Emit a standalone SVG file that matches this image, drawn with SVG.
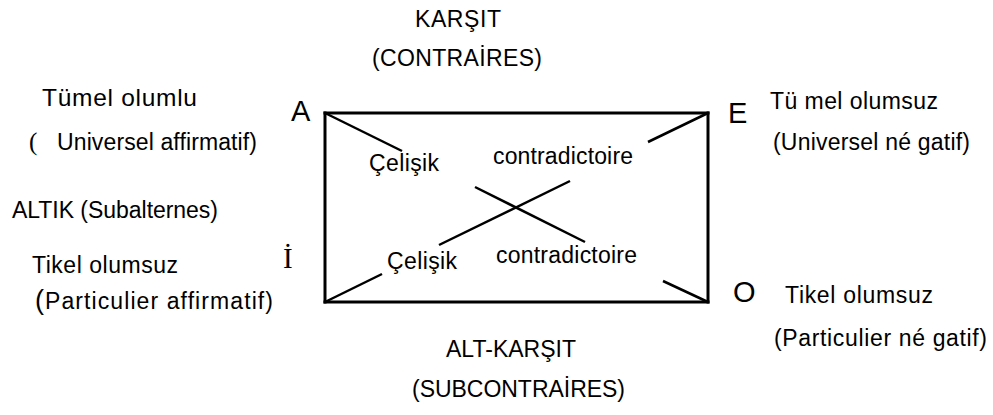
<svg xmlns="http://www.w3.org/2000/svg" width="993" height="415" viewBox="0 0 993 415">
<style>
  text { font-family: "Liberation Sans", Arial, sans-serif; font-size: 23px; fill: #000; }
  .corner { font-size: 29px; }
  .serif { font-family: "Liberation Serif", "Times New Roman", serif; }
  .edge { stroke: #000; stroke-width: 3; fill: none; stroke-linecap: square; }
  .diag { stroke: #000; stroke-width: 2.5; fill: none; }
</style>
<rect width="993" height="415" fill="#fff"/>
<g id="connectors">
  <line class="edge" x1="325" y1="113" x2="708" y2="113"/>
  <line class="edge" x1="708" y1="113" x2="708" y2="302"/>
  <line class="edge" x1="708" y1="302" x2="325" y2="302"/>
  <line class="edge" x1="325" y1="302" x2="325" y2="113"/>
  <line class="diag" x1="325" y1="113" x2="402" y2="151"/>
  <line class="diag" x1="475" y1="187" x2="585" y2="242"/>
  <line class="diag" x1="663" y1="281" x2="708" y2="302"/>
  <line class="diag" x1="325" y1="302" x2="382" y2="274"/>
  <line class="diag" x1="439" y1="245" x2="570" y2="181"/>
  <line class="diag" x1="648" y1="142" x2="708" y2="113"/>
</g>
<g id="node-A">
  <text class="corner" x="291" y="121">A</text>
  <text x="42" y="106" style="font-size:24.5px" textLength="155">Tümel olumlu</text>
  <text class="serif" x="29" y="150" style="font-size:25px">(</text>
  <text x="57" y="150" textLength="200">Universel affirmatif)</text>
</g>
<g id="node-E">
  <text class="corner" x="728" y="123">E</text>
  <text x="770" y="109" textLength="168">Tü mel olumsuz</text>
  <text x="773" y="150" textLength="197">(Universel né gatif)</text>
</g>
<g id="node-I">
  <text class="corner serif" x="283" y="268">İ</text>
  <text x="12" y="218" textLength="206">ALTIK (Subalternes)</text>
  <text x="32" y="273" textLength="146">Tikel olumsuz</text>
  <text x="35" y="309" style="font-size:27px">(</text>
  <text x="45" y="309" textLength="228">Particulier affirmatif)</text>
</g>
<g id="node-O">
  <text class="corner" x="733" y="302">O</text>
  <text x="785" y="303" textLength="148">Tikel olumsuz</text>
  <text x="774" y="346" textLength="213">(Particulier né gatif)</text>
</g>
<g id="relation-labels">
  <text x="415" y="27" textLength="86">KARŞIT</text>
  <text x="372" y="66" textLength="170">(CONTRAİRES)</text>
  <text x="446" y="357" textLength="130">ALT-KARŞIT</text>
  <text x="412" y="397" textLength="213">(SUBCONTRAİRES)</text>
  <text x="369" y="171" textLength="70">Çelişik</text>
  <text x="493" y="164" textLength="140">contradictoire</text>
  <text x="387" y="269" textLength="70">Çelişik</text>
  <text x="496" y="263" textLength="141">contradictoire</text>
</g>
</svg>
